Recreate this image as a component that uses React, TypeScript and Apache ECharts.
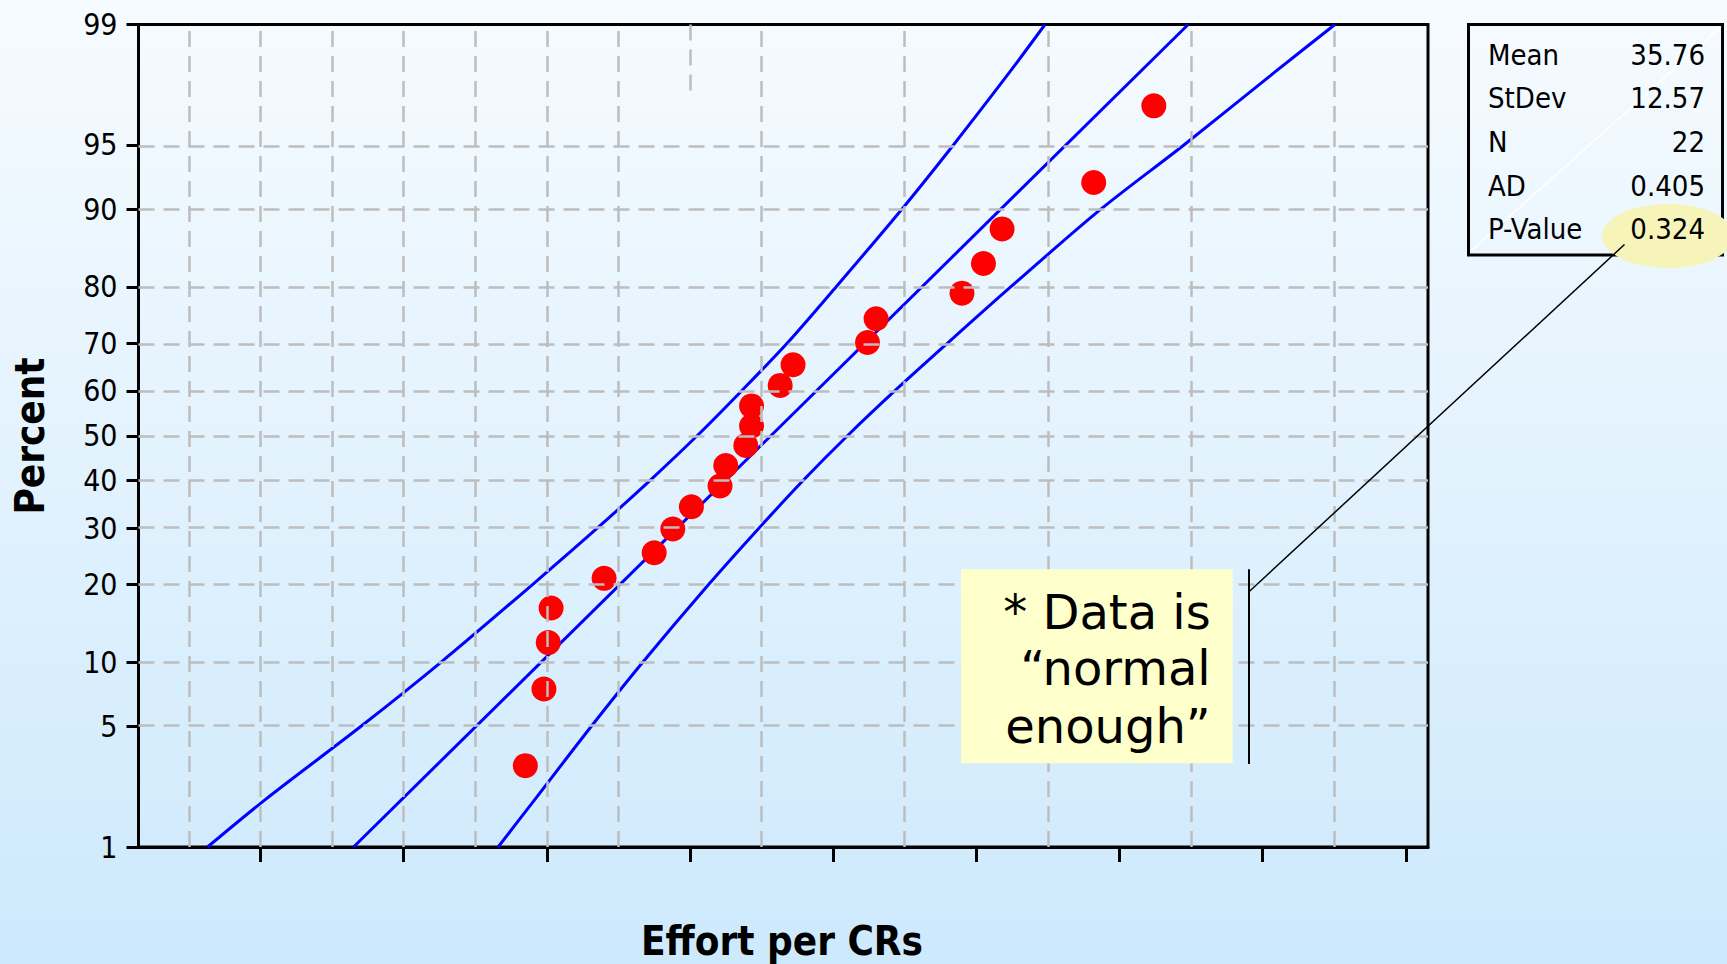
import React, { useEffect, useRef } from "react";
import * as echarts from "echarts";

// ---------- data ----------
const yTickPercents = [1, 5, 10, 20, 30, 40, 50, 60, 70, 80, 90, 95, 99];
const yGridPercents = [5, 10, 20, 30, 40, 50, 60, 70, 80, 90, 95];
const xTickValues = [0, 10, 20, 30, 40, 50, 60, 70, 80];
const xGridValues = [-5, 0, 5, 10, 15, 20, 25, 35, 45, 55, 65, 75];
const xPartialGridValue = 30;
const xPartialGridPercents = [97.4, 99];

const effortValues = [
  18.5, 19.8, 20.1, 20.3, 24.0, 27.5, 28.8, 30.1, 32.1, 32.5, 33.9,
  34.3, 34.3, 36.3, 37.2, 42.4, 43.0, 49.0, 50.5, 51.8, 58.2, 62.4,
];
const percentRanks = [
  3.1, 7.6, 12.1, 16.5, 21.0, 25.4, 29.9, 34.4, 38.8, 43.3, 47.8,
  52.2, 56.7, 61.2, 65.6, 70.1, 74.6, 79.0, 83.5, 87.9, 92.4, 96.9,
];

const fitPercents = [1, 99];
const fitEffort = [6.5, 64.8];

const bandPercents = [1, 2, 5, 10, 20, 30, 40, 50, 60, 70, 80, 90, 95, 98, 99];
const upperBandEffort = [-3.7, 0.4, 7.0, 12.6, 19.0, 23.5, 27.2, 30.5, 33.6, 36.8, 40.2, 44.8, 48.4, 52.3, 54.8];
const lowerBandEffort = [16.6, 19.2, 23.1, 26.7, 31.3, 34.8, 37.9, 41.0, 44.3, 48.0, 52.4, 58.7, 64.5, 70.8, 75.05];

const statLabels = ["Mean", "StDev", "N", "AD", "P-Value"];
const statValues = ["35.76", "12.57", "22", "0.405", "0.324"];
const noteLines = ["* Data is", "\u201Cnormal", "enough\u201D"];

const xAxisTitle = "Effort per CRs";
const yAxisTitle = "Percent";

// ---------- probability scale ----------
function probit(p: number): number {
  const a = [-3.969683028665376e1, 2.209460984245205e2, -2.759285104469687e2, 1.38357751867269e2, -3.066479806614716e1, 2.506628277459239];
  const b = [-5.447609879822406e1, 1.615858368580409e2, -1.556989798598866e2, 6.680131188771972e1, -1.328068155288572e1];
  const c = [-7.784894002430293e-3, -3.223964580411365e-1, -2.400758277161838, -2.549732539343734, 4.374664141464968, 2.938163982698783];
  const d = [7.784695709041462e-3, 3.224671290700398e-1, 2.445134137142996, 3.754408661907416];
  const pl = 0.02425;
  const ph = 1 - pl;
  if (p < pl) {
    const q = Math.sqrt(-2 * Math.log(p));
    return (((((c[0] * q + c[1]) * q + c[2]) * q + c[3]) * q + c[4]) * q + c[5]) /
      ((((d[0] * q + d[1]) * q + d[2]) * q + d[3]) * q + 1);
  }
  if (p > ph) {
    const q = Math.sqrt(-2 * Math.log(1 - p));
    return -(((((c[0] * q + c[1]) * q + c[2]) * q + c[3]) * q + c[4]) * q + c[5]) /
      ((((d[0] * q + d[1]) * q + d[2]) * q + d[3]) * q + 1);
  }
  const q = p - 0.5;
  const r = q * q;
  return ((((((a[0] * r + a[1]) * r + a[2]) * r + a[3]) * r + a[4]) * r + a[5]) * q) /
    (((((b[0] * r + b[1]) * r + b[2]) * r + b[3]) * r + b[4]) * r + 1);
}
const zOf = (pct: number) => probit(pct / 100);

const NARROW = "'DejaVu Sans Condensed', 'DejaVu Sans', sans-serif";
const WIDE = "'DejaVu Sans', Verdana, sans-serif";

export default function App() {
  const ref = useRef<HTMLDivElement>(null);

  useEffect(() => {
    if (!ref.current) return;
    const chart = echarts.init(ref.current, undefined, { renderer: "svg" });

    const yTickZ = yTickPercents.map(zOf);
    const gridStyle = { color: "#bdbdbd", width: 2.5, type: [16, 9] as any };

    const markLineData: any[] = [
      ...yGridPercents.map((p) => ({ yAxis: zOf(p) })),
      ...xGridValues.map((v) => ({ xAxis: v })),
      [
        { coord: [xPartialGridValue, zOf(xPartialGridPercents[1])] },
        { coord: [xPartialGridValue, zOf(xPartialGridPercents[0])] },
      ],
    ];

    const statRowY = [54.5, 98.3, 142, 185.7, 229.4];

    const graphic: any[] = [
      // axis titles
      {
        type: "text", x: 30, y: 436, rotation: Math.PI / 2, z: 20,
        style: { text: yAxisTitle, fontSize: 40, fontWeight: "bold", fontFamily: NARROW, fill: "#000",
          align: "center", verticalAlign: "middle", textAlign: "center", textVerticalAlign: "middle" },
      },
      {
        type: "text", x: 782, y: 941, z: 20,
        style: { text: xAxisTitle, fontSize: 40, fontWeight: "bold", fontFamily: NARROW, fill: "#000",
          align: "center", verticalAlign: "middle", textAlign: "center", textVerticalAlign: "middle" },
      },
      // stats box
      {
        type: "rect", z: 20, shape: { x: 1468.5, y: 24.5, width: 254, height: 230.5 },
        style: { fill: "none", stroke: "#000", lineWidth: 3 },
      },
      {
        type: "line", z: 21, shape: { x1: 1472, y1: 250, x2: 1721, y2: 27 },
        style: { stroke: "#ffffff", lineWidth: 1.5 },
      },
      {
        type: "ellipse", z: 22, shape: { cx: 1668, cy: 236, rx: 66, ry: 32 },
        style: { fill: "#f6f4b9" },
      },
      ...statLabels.map((t, i) => ({
        type: "text", x: 1488, y: statRowY[i], z: 23,
        style: { text: t, fontSize: 29, fontFamily: NARROW, fill: "#000",
          align: "left", verticalAlign: "middle", textAlign: "left", textVerticalAlign: "middle" },
      })),
      ...statValues.map((t, i) => ({
        type: "text", x: 1705, y: statRowY[i], z: 23,
        style: { text: t, fontSize: 29, fontFamily: NARROW, fill: "#000",
          align: "right", verticalAlign: "middle", textAlign: "right", textVerticalAlign: "middle" },
      })),
      // callout
      {
        type: "line", z: 24, shape: { x1: 1624.5, y1: 244.5, x2: 1249, y2: 591.7 },
        style: { stroke: "#000", lineWidth: 1.5 },
      },
      {
        type: "line", z: 24, shape: { x1: 1249, y1: 569.3, x2: 1249, y2: 764 },
        style: { stroke: "#000", lineWidth: 2 },
      },
      {
        type: "rect", z: 20, shape: { x: 961, y: 569.3, width: 271.7, height: 194 },
        style: { fill: "#ffffcc" },
      },
      ...noteLines.map((t, i) => ({
        type: "text", x: 1210.7, y: [611.7, 668.4, 725.7][i], z: 21,
        style: { text: t, fontSize: 48, fontFamily: WIDE, fill: "#000",
          align: "right", verticalAlign: "middle", textAlign: "right", textVerticalAlign: "middle" },
      })),
    ];

    const option: any = {
      animation: false,
      backgroundColor: "transparent",
      grid: {
        show: true, left: 138.5, right: 1727 - 1428, top: 24.5, bottom: 964 - 847,
        borderColor: "#000", borderWidth: 3, backgroundColor: "transparent",
      },
      xAxis: {
        type: "value", min: -8.52, max: 81.55,
        axisLine: { show: true, onZero: false, lineStyle: { color: "#000", width: 3 } },
        axisTick: { show: true, customValues: xTickValues, length: 15, inside: false, lineStyle: { color: "#000", width: 3 } },
        axisLabel: { show: false },
        splitLine: { show: false },
      },
      yAxis: {
        type: "value", min: zOf(1), max: zOf(99),
        axisLine: { show: true, onZero: false, lineStyle: { color: "#000", width: 3 } },
        axisTick: { show: true, customValues: yTickZ, length: 12, lineStyle: { color: "#000", width: 3 } },
        axisLabel: {
          show: true, customValues: yTickZ, margin: 21, fontSize: 30, fontFamily: NARROW, color: "#000",
          formatter: (v: number) => {
            let best = yTickPercents[0];
            let bd = Infinity;
            yTickPercents.forEach((p) => {
              const dd = Math.abs(zOf(p) - v);
              if (dd < bd) { bd = dd; best = p; }
            });
            return String(best);
          },
        },
        splitLine: { show: false },
      },
      graphic,
      series: [
        {
          type: "line", name: "grid", data: [], z: 1, silent: true,
          markLine: {
            silent: true, symbol: ["none", "none"], label: { show: false },
            lineStyle: gridStyle, data: markLineData, animation: false,
          },
        },
        {
          type: "line", name: "Upper CI", z: 2, smooth: 0.3, showSymbol: false, symbol: "none",
          lineStyle: { color: "#0000ff", width: 3 },
          data: bandPercents.map((p, i) => [upperBandEffort[i], zOf(p)]),
        },
        {
          type: "line", name: "Fit", z: 2, showSymbol: false, symbol: "none",
          lineStyle: { color: "#0000ff", width: 3 },
          data: fitPercents.map((p, i) => [fitEffort[i], zOf(p)]),
        },
        {
          type: "line", name: "Lower CI", z: 2, smooth: 0.3, showSymbol: false, symbol: "none",
          lineStyle: { color: "#0000ff", width: 3 },
          data: bandPercents.map((p, i) => [lowerBandEffort[i], zOf(p)]),
        },
        {
          type: "scatter", name: "Effort", z: 3, symbol: "circle", symbolSize: 25,
          itemStyle: { color: "#ff0000", opacity: 1 },
          data: effortValues.map((v, i) => [v, zOf(percentRanks[i])]),
        },
      ],
    };

    chart.setOption(option);
    return () => chart.dispose();
  }, []);

  return (
    <div
      ref={ref}
      style={{
        position: "fixed", left: 0, top: 0, width: 1727, height: 964,
        background: "linear-gradient(to bottom, #f6fbff 0%, #cde9fc 100%)",
      }}
    />
  );
}
